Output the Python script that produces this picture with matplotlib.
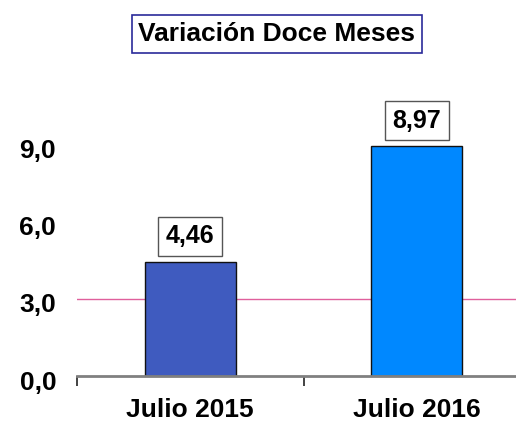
import matplotlib
matplotlib.use("Agg")
import matplotlib.pyplot as plt
from matplotlib.transforms import ScaledTranslation

# ---- data ----
categories = ["Julio 2015", "Julio 2016"]
values = [4.46, 8.97]
value_labels = ["4,46", "8,97"]
ytick_vals = [0, 3, 6, 9]
ytick_labels = ["0,0", "3,0", "6,0", "9,0"]
ref_level = 3.0
title = "Variación Doce Meses"

BAR_COLORS = ["#3F5BBF", "#0088FF"]
PINK = "#E0609C"
AXGRAY = "#808080"
FS = 19

plt.rcParams["font.family"] = ["Liberation Sans", "DejaVu Sans"]

W, H = 516, 430
fig = plt.figure(figsize=(W / 100, H / 100), dpi=100)
# axes in pixel terms: x from 77 to 530, y zero at 376, 25.67 px per unit
ymax = 11.0
ppu = 25.67
ax = fig.add_axes([77 / W, (H - 376) / H, 453 / W, ymax * ppu / H])
ax.set_xlim(-0.5, 1.5)
ax.set_ylim(0, ymax)

x = list(range(len(categories)))
ax.axhline(ref_level, color=PINK, lw=1.0, zorder=1)
ax.bar(x, values, width=0.40, color=BAR_COLORS, edgecolor="#111111", linewidth=1.0, zorder=2)

for xi, v, lab in zip(x, values, value_labels):
    ax.annotate(lab, xy=(xi, v), xytext=(0, 9.5), textcoords="offset points",
                ha="center", va="bottom", fontsize=18, fontweight="bold",
                bbox=dict(boxstyle="square,pad=0.3", fc="white", ec="#555555", lw=1.0))

for s in ["top", "right", "left"]:
    ax.spines[s].set_visible(False)
ax.spines["bottom"].set_color(AXGRAY)
ax.spines["bottom"].set_linewidth(2.0)

ax.set_yticks(ytick_vals)
ax.set_yticklabels(ytick_labels, fontsize=FS, fontweight="bold")
ax.tick_params(axis="y", length=0, pad=15)
# labels sit a few px below their gridline in the original
shift = ScaledTranslation(0, -4 / 100, fig.dpi_scale_trans)
for t in ax.get_yticklabels():
    t.set_transform(t.get_transform() + shift)

ax.set_xticks([-0.5, 0.5, 1.5])
ax.set_xticklabels([])
ax.tick_params(axis="x", length=7, width=1.2, color="#222222", direction="out")
for xi, cat in zip(x, categories):
    ax.text(xi, -0.85, cat, ha="center", va="top", fontsize=FS, fontweight="bold",
            transform=ax.transData, clip_on=False)

fig.text(277 / W, 1 - 34 / H, title, ha="center", va="center", fontsize=FS, fontweight="bold",
         bbox=dict(boxstyle="square,pad=0.25", fc="white", ec="#2A2A9A", lw=1.2))

fig.savefig("out.png", dpi=100)
